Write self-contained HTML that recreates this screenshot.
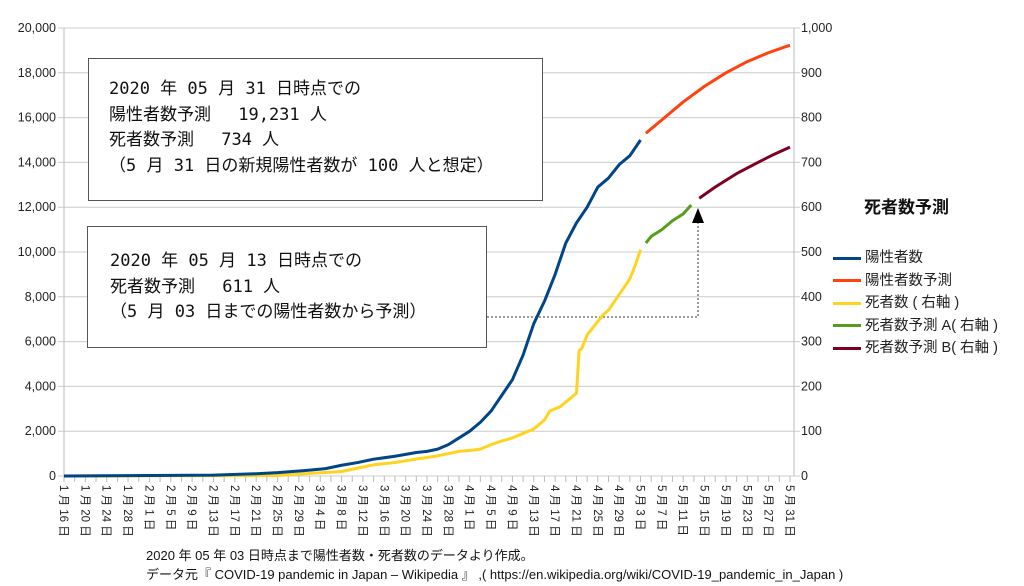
<!DOCTYPE html>
<html><head><meta charset="utf-8"><style>
body{margin:0;background:#fff;width:1024px;height:586px;overflow:hidden;font-family:"Liberation Sans","Noto Sans CJK JP",sans-serif}
.box{position:absolute;border:1.5px solid #555;background:#fff;font-family:"DejaVu Sans Mono","Noto Sans CJK JP",monospace;font-size:17px;line-height:25.5px;color:#111;box-sizing:border-box;white-space:pre}
</style></head><body>
<svg id="chart" width="1024" height="586" style="position:absolute;left:0;top:0" font-family="Liberation Sans, Noto Sans CJK JP, sans-serif"></svg>
<div class="box" style="left:88px;top:58px;width:455px;height:143px;padding:18px 0 0 20px">2020 年 05 月 31 日時点での
陽性者数予測　 19,231 人
死者数予測　 734 人
（5 月 31 日の新規陽性者数が 100 人と想定）</div>
<div class="box" style="left:87px;top:226px;width:400px;height:122px;padding:22px 0 0 22px">2020 年 05 月 13 日時点での
死者数予測　 611 人
（5 月 03 日までの陽性者数から予測）</div>
<div style="position:absolute;left:864px;top:193px;font-size:17px;font-weight:bold;color:#111">死者数予測</div>
<div id="legend" style="position:absolute;left:833px;top:247px;font-size:14.5px;color:#222;line-height:22.5px"></div>
<div style="position:absolute;left:146px;top:546px;font-size:13px;color:#111;line-height:19px">2020 年 05 年 03 日時点まで陽性者数・死者数のデータより作成。<br>データ元『 COVID-19 pandemic in Japan – Wikipedia 』 ,( https://en.wikipedia.org/wiki/COVID-19_pandemic_in_Japan )</div>
<script>
// day index from Jan 16
const posDays=[0,16,28,36,40,45,49,52,55,58,62,66,68,70,72,74,76,78,80,82,84,86,88,90,92,94,96,98,100,102,104,106,108];
const posVals=[0,20,40,100,150,240,330,480,600,750,880,1050,1100,1200,1400,1700,2000,2400,2900,3600,4300,5400,6800,7800,9000,10400,11300,12000,12900,13300,13900,14300,15000];
const posPredDays=[109,112,116,120,124,128,132,136];
const posPredVals=[15300,15900,16700,17400,18000,18500,18900,19231];
const deathDays=[0,40,45,52,54,58,62,66,70,74,76,78,80,82,84,86,88,90,91,93,95,96,96.5,97,98,100,101,102,104,106,107,108];
const deathVals=[0,1,5,10,15,25,30,38,45,55,57,60,70,78,85,95,105,125,145,155,175,185,280,285,315,345,360,370,405,440,470,505];
const predADays=[109,110,112,114,116,117.5];
const predAVals=[520,535,550,570,585,605];
const predBDays=[119,122,126,130,133,136];
const predBVals=[620,645,675,700,718,734];
const leftTicks=[0,2000,4000,6000,8000,10000,12000,14000,16000,18000,20000];
const rightTicks=[0,100,200,300,400,500,600,700,800,900,1000];
const legendLabels=["陽性者数","陽性者数予測","死者数 ( 右軸 )","死者数予測 A( 右軸 )","死者数予測 B( 右軸 )"];
const colors=["#004586","#ff420e","#ffd320","#579d1c","#7e0021"];

const svg=document.getElementById('chart');const NS='http://www.w3.org/2000/svg';
const X0=64,X1=790,Y0=476,Y1=28,RA=794;
const x=d=>X0+(X1-X0)*d/136;
const yL=v=>Y0-(Y0-Y1)*v/20000;
const yR=v=>Y0-(Y0-Y1)*v/1000;
function el(t,a){const e=document.createElementNS(NS,t);for(const k in a)e.setAttribute(k,a[k]);svg.appendChild(e);return e;}
leftTicks.forEach((v,i)=>{
 const g=el('line',{x1:X0-6,x2:RA+6,y1:yL(v),y2:yL(v),stroke:'#ccc','stroke-width':1});
 
 const t=el('text',{x:56,y:yL(v)+4,'text-anchor':'end','font-size':12.5,fill:'#222'});t.textContent=v.toLocaleString('en-US');
 
 const r=el('text',{x:801,y:yR(rightTicks[i])+4,'font-size':12.5,fill:'#222'});r.textContent=rightTicks[i].toLocaleString('en-US');
 
});
const ax=el('line',{x1:X0,x2:X0,y1:Y1,y2:Y0,stroke:'#bbb'});
const ax2=el('line',{x1:RA,x2:RA,y1:Y1,y2:Y0,stroke:'#bbb'});
const months=[[1,16,31],[2,1,29],[3,1,31],[4,1,30],[5,1,31]];
const dates=[];
for(const [m,s,n] of months){for(let d=s;d<=n;d++){dates.push([m,d]);}}
dates.forEach(([m,d],i)=>{
 if(i%2==0){const tk=el('line',{x1:x(i),x2:x(i),y1:Y0,y2:Y0+6,stroke:'#bbb'});}
 if(i%4==0){const t=el('text',{transform:`translate(${x(i)-4},${Y0+9}) rotate(90)`,'font-size':11.5,fill:'#222'});t.textContent=`${m} 月 ${d} 日`;
 }
});
const dl=el('polyline',{points:`487,317 698,317 698,222`,fill:'none',stroke:'#333','stroke-dasharray':'2,2','stroke-width':1});

const ah=el('polygon',{points:'698,208 692,223 704,223',fill:'#000'});
function series(days,vals,yf,c,name){
 const p=el('polyline',{points:days.map((d,i)=>x(d)+','+yf(vals[i])).join(' '),fill:'none',stroke:c,'stroke-width':3,'stroke-linejoin':'round'});
 
}
series(deathDays,deathVals,yR,colors[2],'deaths-line');
series(posDays,posVals,yL,colors[0],'positives-line');
series(posPredDays,posPredVals,yL,colors[1],'positives-forecast-line');
series(predADays,predAVals,yR,colors[3],'deaths-forecast-a-line');
series(predBDays,predBVals,yR,colors[4],'deaths-forecast-b-line');
const lg=document.getElementById('legend');
legendLabels.forEach((l,i)=>{
 const r=document.createElement('div');
 
 
 r.innerHTML=`<span style="display:inline-block;width:28px;height:3px;background:${colors[i]};vertical-align:middle;margin-right:4px"></span>${l}`;
 lg.appendChild(r);
});
</script>
</body></html>
